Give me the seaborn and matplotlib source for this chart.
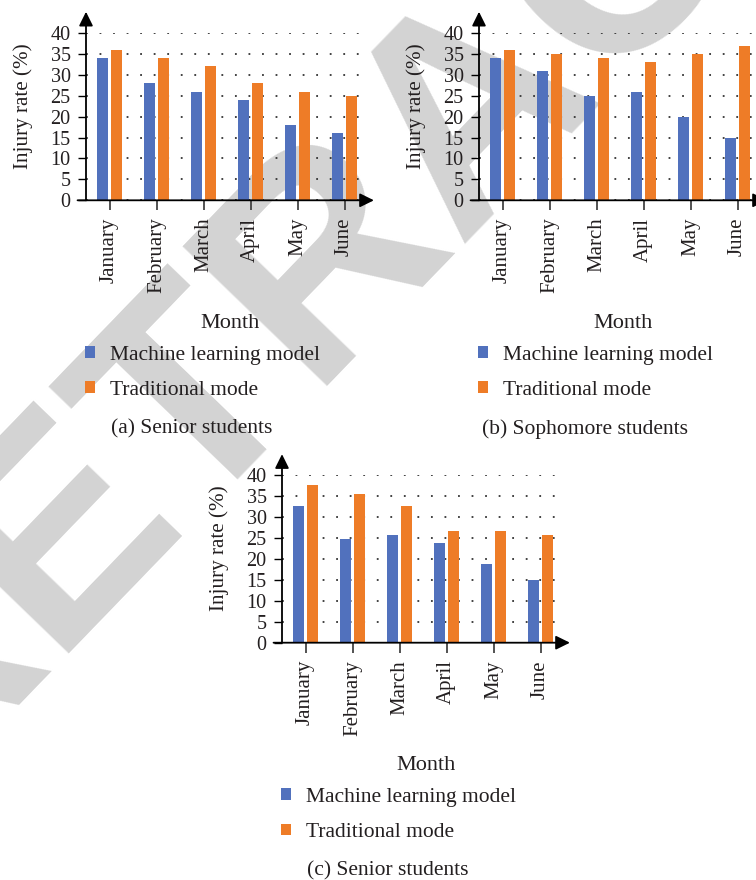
import numpy as np
import pandas as pd
import matplotlib
matplotlib.use("Agg")
import matplotlib.pyplot as plt
import seaborn as sns

# ---------------- data ----------------
months = ["January", "February", "March", "April", "May", "June"]
series_names = ["Machine learning model", "Traditional mode"]

a_ml = [34, 28, 26, 24, 18, 16]
a_trad = [36, 34, 32, 28, 26, 25]

b_ml = [34, 31, 25, 26, 20, 15]
b_trad = [36, 35, 34, 33, 35, 37]

c_ml = [32.7, 24.8, 25.8, 23.8, 18.8, 15]
c_trad = [37.6, 35.6, 32.7, 26.8, 26.8, 25.8]

captions = ["(a) Senior students", "(b) Sophomore students", "(c) Senior students"]
y_ticks = [0, 5, 10, 15, 20, 25, 30, 35, 40]
y_label = "Injury rate (%)"
x_label = "Month"
watermark = "RETRACTED"

# ---------------- style ----------------
sns.set_theme(style="white")
plt.rcParams["font.family"] = ["Liberation Serif", "DejaVu Serif"]
TXT = "#231f20"
BLUE = "#5171bd"
ORANGE = "#ee7c27"

W, H = 756, 880
fig = plt.figure(figsize=(W / 100, H / 100), dpi=100)
fig.patch.set_facecolor("white")

# watermark (behind everything)
fig.text(0.6979, 0.8201, watermark, rotation=46, rotation_mode="anchor",
         ha="center", va="baseline", fontsize=209.5, color="#d3d3d3",
         family="Liberation Sans", weight="bold", zorder=-5)

AX_W, AX_H = 282, 167.3


def make_panel(left_px, zero_px, ml, trad, caption):
    ax = fig.add_axes([left_px / W, 1 - zero_px / H, AX_W / W, AX_H / H])
    ax.set_facecolor("none")
    df = pd.DataFrame({
        "Month": months * 2,
        "Rate": list(ml) + list(trad),
        "Model": [series_names[0]] * len(months) + [series_names[1]] * len(months),
    })
    sns.barplot(data=df, x="Month", y="Rate", hue="Model",
                palette=[BLUE, ORANGE], saturation=1, errorbar=None,
                width=0.575, gap=0.22, linewidth=0, ax=ax, zorder=3)
    ax.set_xlim(-0.5, 5.5)
    ax.set_ylim(0, 40)
    ax.set_yticks(y_ticks)
    ax.set_yticklabels([str(t) for t in y_ticks])
    for s in ax.spines.values():
        s.set_visible(False)
    ax.yaxis.grid(True, linestyle=(0, (1, 6.5)), color="#333333", lw=1.3, zorder=1)
    ax.xaxis.grid(False)
    ax.set_axisbelow(True)

    ax.tick_params(axis="y", which="major", left=True, length=6, width=1,
                   color="black", pad=5, labelsize=14.5, labelcolor=TXT)
    ax.tick_params(axis="x", which="major", bottom=True, length=7.5, width=1.3,
                   color="#444444", pad=5, labelsize=15, labelcolor=TXT)
    for lab in ax.get_xticklabels():
        lab.set_rotation(90)
        lab.set_ha("center")
        lab.set_va("top")

    # axes with arrows
    arrow_kw = dict(arrowstyle="-|>,head_length=0.85,head_width=0.42",
                    lw=1.3, color="black", shrinkA=0, shrinkB=0, mutation_scale=10)
    ax.annotate("", xy=(0, 1.127), xytext=(0, 0), xycoords="axes fraction",
                arrowprops=arrow_kw, annotation_clip=False)
    ax.annotate("", xy=(1.021, 0), xytext=(-0.03, 0), xycoords="axes fraction",
                arrowprops=arrow_kw, annotation_clip=False)

    ax.set_ylabel(y_label, fontsize=15.2, color=TXT)
    ax.yaxis.set_label_coords(-0.222, 0.565)
    ax.yaxis.label.set_va("center")
    ax.set_xlabel(x_label, fontsize=16, color=TXT)
    ax.xaxis.set_label_coords(0.512, -0.735)
    ax.xaxis.label.set_va("center")

    handles, labels = ax.get_legend_handles_labels()
    leg = ax.legend(handles, labels, loc="center left",
                    bbox_to_anchor=(-0.004, -1.03), bbox_transform=ax.transAxes,
                    frameon=False, fontsize=15.5, handlelength=0.45, handleheight=0.45,
                    handletextpad=0.72, labelspacing=0.75, borderpad=0,
                    borderaxespad=0)
    for t in leg.get_texts():
        t.set_color(TXT)

    ax.text(0.375, -1.365, caption, transform=ax.transAxes, ha="center",
            va="center", fontsize=15.5, color=TXT)
    return ax


make_panel(86, 200.3, a_ml, a_trad, captions[0])
make_panel(479, 200.3, b_ml, b_trad, captions[1])
make_panel(282, 642.7, c_ml, c_trad, captions[2])

fig.savefig("out.png", dpi=100, facecolor="white")
